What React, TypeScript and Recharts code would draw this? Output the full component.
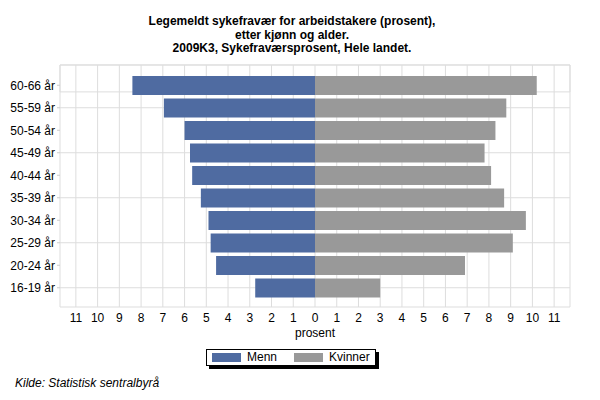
import React from 'react';
import { BarChart, Bar, XAxis, YAxis, CartesianGrid, ReferenceArea } from 'recharts';

// age groups, top to bottom
const ageGroups = ['60-66 år', '55-59 år', '50-54 år', '45-49 år', '40-44 år', '35-39 år', '30-34 år', '25-29 år', '20-24 år', '16-19 år'];
const menn = [8.4, 6.95, 6.0, 5.75, 5.65, 5.25, 4.9, 4.8, 4.55, 2.75];
const kvinner = [10.2, 8.8, 8.3, 7.8, 8.1, 8.7, 9.7, 9.1, 6.9, 3.0];
const xTicks = [-11, -10, -9, -8, -7, -6, -5, -4, -3, -2, -1, 0, 1, 2, 3, 4, 5, 6, 7, 8, 9, 10, 11];
const titleLines = [
    'Legemeldt sykefravær for arbeidstakere (prosent),',
    'etter kjønn og alder.',
    '2009K3, Sykefraværsprosent, Hele landet.',
];

const X_MAX = 11.73;
const FONT = '"Liberation Sans", Arial, sans-serif';
const BLUE = '#4f6ba1';
const GREY = '#999999';

const data = ageGroups.map((age, i) => ({ age, Menn: -menn[i], Kvinner: kvinner[i] }));

function LegendBox() {
    const item = (color: string, label: string, w: number) => (
        <span style={{ display: 'inline-flex', alignItems: 'center', width: w }}>
            <span style={{ display: 'inline-block', width: 29, height: 9, background: color, marginRight: 6 }} />
            {label}
        </span>
    );
    return (
        <div style={{
            position: 'absolute', left: 206, top: 349, width: 163, height: 15,
            border: '1px solid #000', boxShadow: '3px 3px 0 #000', background: '#fff',
            padding: '0 0 0 5px', fontSize: 12, color: '#000',
            display: 'flex', lineHeight: '15px',
        }}>
            {item(BLUE, 'Menn', 82)}
            {item(GREY, 'Kvinner', 76)}
        </div>
    );
}

export default function App() {
    return (
        <div style={{ position: 'absolute', left: 0, top: 0, width: 600, height: 400, background: '#fff', fontFamily: FONT }}>
            <div style={{ position: 'absolute', left: 0, width: 584, top: 15, textAlign: 'center', fontWeight: 'bold', fontSize: 12, lineHeight: '13.5px' }}>
                {titleLines.map((t) => <div key={t}>{t}</div>)}
            </div>
            <BarChart
                width={600}
                height={400}
                data={data}
                layout="vertical"
                stackOffset="sign"
                barSize={19}
                margin={{ top: 65, right: 30, bottom: 63, left: 0 }}
            >
                <CartesianGrid stroke="#dddddd" strokeWidth={1} />
                <ReferenceArea yAxisId="frame" x1={-X_MAX} x2={X_MAX} y1={0} y2={1} fill="none" stroke="#dddddd" strokeWidth={1} ifOverflow="extendDomain" />
                <XAxis
                    type="number"
                    domain={[-X_MAX, X_MAX]}
                    ticks={xTicks}
                    allowDataOverflow
                    tickFormatter={(v: number) => String(Math.abs(v))}
                    axisLine={false}
                    tickLine={false}
                    tickMargin={0}
                    tick={{ fill: '#000', fontSize: 12, fontFamily: FONT }}
                    height={30}
                    label={{ value: 'prosent', position: 'insideBottom', offset: 0, fill: '#000', fontSize: 12, fontFamily: FONT }}
                />
                <YAxis
                    type="category"
                    dataKey="age"
                    width={60}
                    padding={{ top: 9, bottom: 8 }}
                    axisLine={false}
                    tickSize={3}
                    tickLine={{ stroke: '#cccccc' }}
                    tick={{ fill: '#000', fontSize: 12, fontFamily: FONT }}
                />
                <YAxis yAxisId="frame" type="number" domain={[0, 1]} hide />
                <Bar dataKey="Menn" stackId="a" fill={BLUE} isAnimationActive={false} />
                <Bar dataKey="Kvinner" stackId="a" fill={GREY} isAnimationActive={false} />
            </BarChart>
            <LegendBox />
            <div style={{ position: 'absolute', left: 15, top: 376, fontSize: 12, fontStyle: 'italic' }}>
                Kilde: Statistisk sentralbyrå
            </div>
        </div>
    );
}
